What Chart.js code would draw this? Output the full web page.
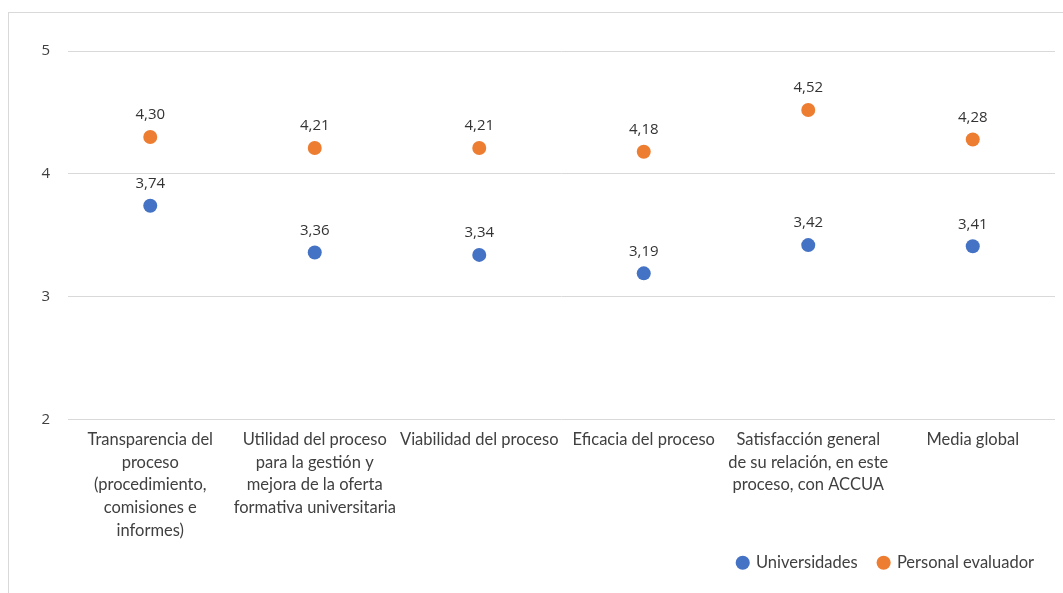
<!DOCTYPE html>
<html>
<head>
<meta charset="utf-8">
<script src="https://cdn.jsdelivr.net/npm/chart.js@4/dist/chart.umd.min.js"></script>
<style>
html,body{margin:0;padding:0;background:#fff;overflow:hidden;}
#frame{position:absolute;left:8px;top:12px;width:1060px;height:590px;border:1px solid #d9d9d9;box-sizing:border-box;}
#wrap{position:absolute;left:9px;top:13px;width:1054px;height:580px;}
</style>
</head>
<body>
<div id="frame"></div>
<div id="wrap"><canvas id="c" width="1054" height="580"></canvas></div>
<script>
const categories = [
  ["Transparencia del","proceso","(procedimiento,","comisiones e","informes)"],
  ["Utilidad del proceso","para la gestión y","mejora de la oferta","formativa universitaria"],
  "Viabilidad del proceso",
  "Eficacia del proceso",
  ["Satisfacción general","de su relación, en este","proceso, con ACCUA"],
  "Media global"
];
const universidades = [3.74, 3.36, 3.34, 3.19, 3.42, 3.41];
const personalEvaluador = [4.30, 4.21, 4.21, 4.18, 4.52, 4.28];
const yTicks = [2, 3, 4, 5];

const BLUE = '#4472C4', ORANGE = '#ED7D31';

const labelPlugin = {
  id: 'pointLabels',
  afterDatasetsDraw(chart) {
    const ctx = chart.ctx;
    ctx.save();
    ctx.font = '15px "Open Sans"';
    ctx.fillStyle = '#333333';
    ctx.textAlign = 'center';
    ctx.textBaseline = 'middle';
    chart.data.datasets.forEach((ds, i) => {
      chart.getDatasetMeta(i).data.forEach((pt, j) => {
        ctx.fillText(ds.data[j].toFixed(2).replace('.', ','), pt.x, pt.y - 22);
      });
    });
    ctx.restore();
  }
};

new Chart(document.getElementById('c'), {
  type: 'line',
  data: {
    labels: categories,
    datasets: [
      { label: 'Universidades', data: universidades, showLine: false,
        backgroundColor: BLUE, borderColor: BLUE, pointRadius: 7, pointHoverRadius: 7, pointBorderWidth: 0 },
      { label: 'Personal evaluador', data: personalEvaluador, showLine: false,
        backgroundColor: ORANGE, borderColor: ORANGE, pointRadius: 7, pointHoverRadius: 7, pointBorderWidth: 0 }
    ]
  },
  options: {
    responsive: false,
    animation: false,
    events: [],
    layout: { padding: { top: 38, right: 8, bottom: 12, left: 0 } },
    plugins: {
      tooltip: { enabled: false },
      legend: {
        position: 'bottom',
        align: 'end',
        labels: {
          usePointStyle: true,
          pointStyle: 'circle',
          boxWidth: 10, boxHeight: 10,
          padding: 21,
          color: '#404040',
          font: { family: 'Lato', size: 16.5 }
        }
      }
    },
    scales: {
      x: {
        type: 'category',
        offset: true,
        grid: { display: false, drawTicks: false },
        border: { display: false },
        ticks: {
          autoSkip: false, maxRotation: 0, minRotation: 0, padding: 9,
          color: '#404040',
          font: { family: 'Lato', size: 16.5, lineHeight: 1.37 }
        },
        afterFit(s) {
          s.height = 114;
          s._computeLabelArea = () => undefined;
        }
      },
      y: {
        min: 2, max: 5,
        afterBuildTicks(s) { s.ticks = yTicks.map(v => ({ value: v })); },
        grid: { color: '#d9d9d9', lineWidth: 1, drawTicks: false },
        border: { display: false },
        ticks: {
          padding: 18,
          color: '#404040',
          font: { family: 'Open Sans', size: 15 },
          callback: v => String(v)
        },
        afterFit(s) { s.width = 59; }
      }
    }
  },
  plugins: [labelPlugin]
});
</script>
</body>
</html>
